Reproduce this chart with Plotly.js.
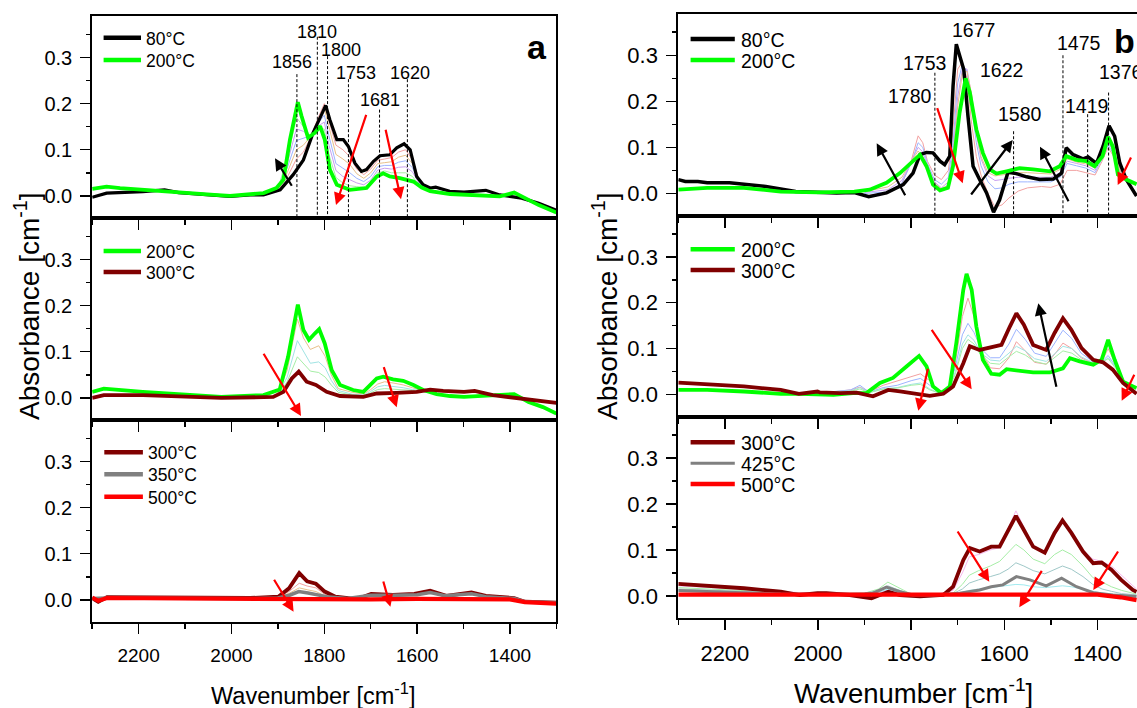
<!DOCTYPE html>
<html><head><meta charset="utf-8">
<script src="https://cdn.plot.ly/plotly-3.0.1.min.js"></script>
<style>html,body{margin:0;padding:0;background:#fff;}#chart{width:1137px;height:708px;}</style>
</head><body><div id="chart"></div>
<script>
// ---------------- DATA (wavenumber cm-1, absorbance) ----------------
// Panel a, top: 80 °C and 200 °C
const aTop80_wn = [2300,2269,2191,2144,2114,2037,2003,1960,1931,1895,1867,1845,1824,1806,1797,1788,1773,1759,1748,1734,1720,1709,1694,1680,1659,1644,1628,1615,1601,1587,1572,1560,1530,1499,1452,1422,1375,1338,1300];
const aTop80_ab = [-0.003,0.006,0.009,0.013,0.007,0.002,-0.001,0.002,0.002,0.013,0.046,0.078,0.137,0.176,0.196,0.165,0.122,0.122,0.107,0.071,0.053,0.057,0.075,0.087,0.089,0.104,0.113,0.100,0.042,0.024,0.017,0.019,0.010,0.008,0.012,0.002,-0.005,-0.016,-0.031];
const aTop200_wn = [2300,2269,2240,2191,2114,2037,2003,1960,1931,1903,1888,1874,1857,1849,1835,1820,1809,1799,1788,1773,1745,1709,1687,1673,1659,1637,1608,1590,1572,1529,1499,1422,1391,1368,1338,1300];
const aTop200_ab = [0.015,0.020,0.017,0.013,0.007,0.002,0.000,0.004,0.006,0.017,0.035,0.122,0.203,0.173,0.126,0.137,0.151,0.122,0.057,0.024,0.013,0.017,0.042,0.049,0.042,0.0385,0.031,0.018,0.010,0.004,0.003,-0.001,0.007,-0.005,-0.020,-0.036];
const aTopMid_wn = [1900,1880,1860,1845,1830,1815,1800,1790,1775,1760,1745,1730,1715,1700,1685,1670,1655,1640,1625,1610,1595,1580];
const aTopMid1 = [0.013,0.040,0.080,0.095,0.125,0.165,0.200,0.165,0.110,0.100,0.085,0.058,0.046,0.058,0.077,0.080,0.083,0.095,0.100,0.078,0.033,0.019];
const aTopMid2 = [0.014,0.050,0.100,0.110,0.128,0.160,0.190,0.150,0.090,0.080,0.068,0.048,0.038,0.050,0.070,0.072,0.074,0.084,0.088,0.070,0.030,0.018];
const aTopMid3 = [0.015,0.060,0.120,0.125,0.130,0.155,0.175,0.130,0.070,0.060,0.050,0.038,0.031,0.042,0.063,0.066,0.066,0.073,0.076,0.061,0.028,0.017];
const aTopMid4 = [0.016,0.070,0.145,0.140,0.130,0.150,0.160,0.110,0.055,0.042,0.035,0.028,0.024,0.034,0.056,0.060,0.058,0.062,0.063,0.052,0.025,0.016];
const aTopMid5 = [0.016,0.080,0.170,0.150,0.130,0.146,0.145,0.090,0.040,0.028,0.022,0.020,0.019,0.028,0.050,0.054,0.050,0.050,0.050,0.042,0.022,0.015];

// Panel a, middle: 200 °C and 300 °C
const aMid200_wn = [2300,2275,2191,2099,2022,1931,1896,1878,1857,1845,1833,1820,1811,1799,1784,1766,1738,1716,1702,1687,1673,1652,1630,1608,1587,1558,1529,1499,1391,1360,1329,1300];
const aMid200_ab = [0.013,0.020,0.013,0.008,0.002,0.006,0.018,0.089,0.202,0.147,0.126,0.140,0.149,0.118,0.060,0.028,0.017,0.013,0.028,0.042,0.046,0.040,0.037,0.028,0.017,0.008,0.004,0.002,0.008,-0.009,-0.020,-0.034];
const aMid300_wn = [2300,2275,2191,2022,1910,1888,1870,1855,1838,1818,1795,1766,1716,1687,1644,1601,1572,1544,1499,1476,1437,1383,1345,1300];
const aMid300_ab = [0.000,0.006,0.006,0.000,0.002,0.013,0.042,0.057,0.035,0.028,0.013,0.004,0.002,0.0095,0.011,0.013,0.018,0.015,0.013,0.015,0.006,-0.001,-0.006,-0.011];
const aMidMid_wn = [1900,1880,1858,1845,1830,1812,1798,1785,1770,1740,1715,1700,1685,1670,1650,1630,1610,1590,1560];
const aMidMid1 = [0.010,0.060,0.171,0.130,0.105,0.113,0.090,0.050,0.020,0.012,0.008,0.018,0.030,0.035,0.032,0.028,0.022,0.016,0.012];
const aMidMid2 = [0.008,0.045,0.124,0.100,0.075,0.078,0.065,0.038,0.016,0.008,0.006,0.014,0.024,0.027,0.025,0.022,0.018,0.015,0.012];
const aMidMid3 = [0.006,0.035,0.089,0.075,0.058,0.055,0.045,0.028,0.012,0.006,0.005,0.011,0.018,0.020,0.019,0.018,0.016,0.014,0.012];

// Panel a, bottom: 300, 350, 500 °C
const aBot300_wn = [2300,2287,2268,2114,1960,1899,1876,1854,1837,1818,1799,1776,1730,1699,1652,1606,1572,1537,1483,1452,1391,1368,1300];
const aBot300_ab = [0.004,-0.004,0.006,0.004,0.004,0.007,0.025,0.058,0.040,0.035,0.018,0.007,0.0015,0.013,0.011,0.013,0.0196,0.0087,0.016,0.0087,0.004,-0.004,-0.006];
const aBot350_wn = [2300,2270,1960,1900,1875,1855,1835,1810,1790,1750,1700,1650,1600,1572,1540,1483,1452,1391,1368,1300];
const aBot350_ab = [0.003,0.004,0.003,0.004,0.010,0.018,0.015,0.010,0.006,0.003,0.010,0.010,0.011,0.016,0.009,0.013,0.007,0.003,-0.004,-0.006];
const aBot500_wn = [2300,2287,2268,2114,1960,1850,1700,1600,1500,1400,1368,1300];
const aBot500_ab = [0.005,-0.002,0.004,0.003,0.002,0.002,0.001,0.002,0.001,0.001,-0.005,-0.008];
const aBotMid_wn = [2300,1960,1900,1876,1854,1837,1818,1799,1776,1730,1699,1652,1606,1572,1537,1483,1452,1391,1368,1300];
const aBotMid1 = [0.004,0.004,0.006,0.018,0.036,0.030,0.026,0.012,0.005,0.002,0.012,0.011,0.012,0.018,0.009,0.015,0.008,0.004,-0.004,-0.006];
const aBotMid2 = [0.004,0.004,0.005,0.014,0.026,0.022,0.018,0.009,0.004,0.002,0.011,0.010,0.011,0.017,0.009,0.014,0.008,0.003,-0.004,-0.006];

// Panel b, top: 80 °C and 200 °C
const bTop80_wn = [2300,2285,2258,2238,2190,2112,2048,2001,1960,1922,1891,1853,1817,1796,1781,1767,1753,1738,1728,1717,1710,1703,1696,1687,1678,1667,1653,1638,1623,1610,1592,1574,1552,1524,1495,1477,1467,1452,1431,1420,1402,1388,1375,1363,1352,1338,1316];
const bTop80_ab = [0.030,0.026,0.026,0.023,0.023,0.015,0.004,0.002,0.001,0.002,-0.007,0.001,0.019,0.044,0.084,0.089,0.088,0.070,0.0625,0.081,0.233,0.324,0.298,0.269,0.168,0.059,0.030,0.001,-0.041,-0.014,0.046,0.043,0.036,0.030,0.031,0.044,0.099,0.084,0.075,0.079,0.065,0.102,0.147,0.124,0.066,0.030,-0.006];
const bTop200_wn = [2300,2238,2159,2080,2001,1922,1889,1853,1824,1799,1781,1767,1753,1738,1721,1710,1696,1683,1674,1660,1646,1631,1617,1595,1567,1538,1502,1481,1467,1445,1424,1406,1389,1377,1367,1356,1338,1316];
const bTop200_ab = [0.008,0.012,0.012,0.004,0.002,0.004,0.008,0.023,0.044,0.066,0.084,0.059,0.019,0.0066,0.012,0.059,0.175,0.250,0.219,0.139,0.088,0.052,0.043,0.048,0.055,0.052,0.048,0.059,0.081,0.073,0.070,0.059,0.081,0.123,0.102,0.041,0.030,0.020];
const bTopMid_wn = [1900,1850,1820,1800,1785,1775,1765,1750,1735,1720,1710,1700,1690,1680,1670,1660,1650,1635,1620,1605,1590,1570,1550,1520,1500,1480,1465,1445,1425,1405,1390,1377,1365,1350,1335];
const bTopMid1 = [-0.005,0.000,0.020,0.070,0.125,0.110,0.070,0.040,0.030,0.050,0.140,0.270,0.285,0.250,0.150,0.080,0.040,0.000,-0.030,-0.025,-0.010,0.005,0.012,0.015,0.013,0.020,0.050,0.050,0.045,0.040,0.070,0.100,0.080,0.040,0.025];
const bTopMid2 = [0.000,0.003,0.022,0.065,0.110,0.100,0.065,0.030,0.020,0.035,0.110,0.240,0.280,0.265,0.190,0.110,0.060,0.025,0.010,0.012,0.020,0.025,0.025,0.025,0.025,0.035,0.065,0.060,0.055,0.045,0.075,0.105,0.085,0.045,0.028];
const bTopMid3 = [0.002,0.008,0.028,0.068,0.100,0.090,0.060,0.025,0.012,0.025,0.090,0.210,0.270,0.270,0.210,0.130,0.075,0.038,0.028,0.030,0.033,0.035,0.035,0.035,0.035,0.045,0.070,0.065,0.060,0.050,0.080,0.110,0.090,0.045,0.028];
const bTopMid4 = [0.004,0.014,0.035,0.070,0.092,0.080,0.055,0.022,0.010,0.018,0.075,0.190,0.260,0.265,0.215,0.135,0.080,0.045,0.038,0.040,0.043,0.045,0.045,0.044,0.042,0.052,0.075,0.068,0.064,0.055,0.080,0.115,0.095,0.045,0.030];

// Panel b, middle: 200 °C and 300 °C
const bMid200_wn = [2300,2238,2159,2080,2039,2001,1967,1925,1896,1867,1839,1810,1783,1767,1753,1735,1717,1703,1688,1681,1670,1660,1646,1628,1610,1595,1567,1538,1502,1474,1459,1438,1409,1391,1377,1363,1345,1316];
const bMid200_ab = [0.010,0.010,0.0065,0.0015,0.0015,-0.0007,-0.001,0.003,0.003,0.025,0.036,0.061,0.084,0.061,0.0175,0.003,0.0175,0.112,0.228,0.263,0.228,0.148,0.0756,0.045,0.043,0.055,0.052,0.048,0.048,0.057,0.079,0.072,0.065,0.0756,0.119,0.0756,0.028,0.014];
const bMid300_wn = [2300,2238,2159,2080,2041,2001,1996,1953,1917,1882,1849,1824,1796,1760,1731,1710,1688,1674,1653,1624,1606,1588,1574,1558,1538,1510,1492,1474,1456,1434,1409,1388,1367,1345,1316];
const bMid300_ab = [0.026,0.023,0.0175,0.010,0.0015,0.0065,0.0044,0.003,0.004,-0.004,0.010,0.0065,0.0015,-0.003,0.0015,0.0175,0.068,0.105,0.097,0.105,0.108,0.148,0.177,0.152,0.108,0.097,0.134,0.166,0.141,0.101,0.0756,0.070,0.054,0.025,0.0015];
const bMidMid_wn = [2000,1930,1910,1890,1860,1830,1800,1780,1760,1740,1720,1705,1690,1678,1665,1650,1630,1610,1590,1574,1555,1535,1510,1490,1474,1455,1435,1410,1390,1377,1360,1340,1320];
const bMidMid1 = [0.002,0.010,0.016,0.006,0.020,0.030,0.040,0.045,0.030,0.006,0.014,0.070,0.170,0.210,0.170,0.095,0.058,0.056,0.080,0.115,0.095,0.070,0.066,0.090,0.112,0.100,0.080,0.068,0.073,0.100,0.065,0.025,0.012];
const bMidMid2 = [0.003,0.010,0.020,0.005,0.015,0.020,0.030,0.035,0.020,0.004,0.012,0.060,0.130,0.155,0.135,0.100,0.080,0.080,0.110,0.142,0.120,0.090,0.083,0.115,0.140,0.122,0.090,0.072,0.072,0.085,0.060,0.025,0.008];
const bMidMid3 = [0.003,0.008,0.015,0.004,0.012,0.015,0.022,0.025,0.012,0.003,0.010,0.050,0.110,0.130,0.118,0.090,0.075,0.073,0.090,0.105,0.095,0.078,0.072,0.090,0.105,0.100,0.082,0.070,0.070,0.080,0.058,0.024,0.008];
const bMidMid4 = [0.003,0.007,0.012,0.004,0.012,0.014,0.020,0.022,0.010,0.003,0.009,0.045,0.100,0.120,0.110,0.085,0.068,0.066,0.082,0.094,0.086,0.072,0.066,0.082,0.095,0.090,0.076,0.068,0.070,0.078,0.056,0.023,0.008];

// Panel b, bottom: 300, 425, 500 °C
const bBot300_wn = [2300,2238,2159,2080,2039,2001,1982,1932,1885,1867,1849,1824,1781,1731,1710,1688,1674,1653,1628,1610,1592,1575,1560,1538,1513,1492,1475,1456,1431,1409,1391,1370,1349,1324,1316];
const bBot300_ab = [0.026,0.0225,0.0167,0.0094,0.002,0.006,0.006,0.002,-0.005,0.002,0.009,0.002,-0.001,0.002,0.020,0.078,0.104,0.0965,0.107,0.107,0.140,0.174,0.147,0.107,0.094,0.137,0.164,0.137,0.0965,0.071,0.0725,0.057,0.035,0.013,0.009];
const bBot425_wn = [2300,2200,2080,2000,1900,1882,1853,1824,1796,1750,1696,1653,1628,1603,1574,1545,1510,1477,1445,1409,1367,1316];
const bBot425_ab = [0.012,0.008,0.004,0.003,0.004,0.006,0.019,0.009,0.002,0.002,0.006,0.013,0.020,0.024,0.042,0.035,0.022,0.0385,0.020,0.007,0.002,-0.001];
const bBot500_wn = [2300,2200,2100,2000,1900,1800,1700,1600,1500,1400,1350,1316];
const bBot500_ab = [0.003,0.003,0.002,0.003,0.002,0.002,0.003,0.004,0.004,0.003,-0.003,-0.009];
const bBotMid_wn = [2300,2200,2100,2000,1900,1870,1850,1830,1800,1750,1710,1690,1675,1655,1630,1610,1592,1575,1558,1538,1513,1492,1475,1456,1431,1410,1390,1370,1348,1324,1316];
const bBotMid1 = [0.022,0.016,0.010,0.005,0.005,0.008,0.012,0.008,0.003,0.002,0.012,0.050,0.085,0.090,0.100,0.105,0.145,0.185,0.150,0.110,0.095,0.130,0.160,0.140,0.100,0.080,0.075,0.065,0.045,0.022,0.015];
const bBotMid2 = [0.018,0.013,0.008,0.004,0.006,0.015,0.030,0.020,0.004,0.002,0.006,0.025,0.045,0.055,0.065,0.075,0.095,0.112,0.100,0.080,0.070,0.090,0.100,0.090,0.065,0.040,0.030,0.020,0.012,0.006,0.004];
const bBotMid3 = [0.015,0.011,0.007,0.004,0.006,0.012,0.022,0.014,0.004,0.002,0.005,0.015,0.028,0.035,0.042,0.048,0.058,0.072,0.065,0.055,0.048,0.058,0.065,0.058,0.042,0.025,0.015,0.010,0.005,0.003,0.002];
const bBotMid4 = [0.012,0.009,0.006,0.003,0.004,0.008,0.015,0.010,0.003,0.002,0.003,0.008,0.012,0.015,0.018,0.020,0.022,0.025,0.024,0.020,0.018,0.020,0.022,0.020,0.015,0.010,0.006,0.004,0.002,0.001,0.001];

// Peak markers
const peakA_labels = ['1856','1810','1800','1753','1681','1620'];
const peakA_wn = [1859,1815,1793,1748,1681,1621];
const peakA_top = [0.264,0.345,0.303,0.253,0.187,0.253];
const peakB_labels = ['1677','1753','1780','1622','1580','1475','1419','1376'];
const peakB_wn = [1749,1580,1474,1421,1376];
const peakB_top = [0.262,0.135,0.300,0.172,0.219];

// Legends
const legATop = ['80°C','200°C'];
const legAMid = ['200°C','300°C'];
const legABot = ['300°C','350°C','500°C'];
const legBTop = ['80°C','200°C'];
const legBMid = ['200°C','300°C'];
const legBBot = ['300°C','425°C','500°C'];

// ---------------- STYLE / LAYOUT ----------------
const W = 1137, H = 708;
const PX = x => x / W, PY = y => 1 - y / H;
const FONT = 'Liberation Sans, Arial, sans-serif';
const C = {black:'#000000', green:'#00ff00', wine:'#800000', gray:'#808080', red:'#ff0000'};
const thinCols = ['#f2a0a0','#e8c08a','#9db4ff','#c8a0f0','#a6eea6','#a0e4e4'];

const traces = [];
function line(xs, ys, ax, color, width) {
  traces.push({x: xs, y: ys, xaxis: 'x' + ax, yaxis: 'y' + ax, type: 'scatter', mode: 'lines',
    line: {color: color, width: width}, showlegend: false, hoverinfo: 'skip'});
}
// a top
[aTopMid1,aTopMid2,aTopMid3,aTopMid4,aTopMid5].forEach((s,i)=>line(aTopMid_wn, s, '', thinCols[i], 1));
line(aTop80_wn, aTop80_ab, '', C.black, 3.2);
line(aTop200_wn, aTop200_ab, '', C.green, 3.8);
// a mid
[aMidMid1,aMidMid2,aMidMid3].forEach((s,i)=>line(aMidMid_wn, s, '2', [thinCols[1],thinCols[5],thinCols[4]][i], 1));
line(aMid200_wn, aMid200_ab, '2', C.green, 3.8);
line(aMid300_wn, aMid300_ab, '2', C.wine, 3.8);
// a bottom
[aBotMid1,aBotMid2].forEach((s,i)=>line(aBotMid_wn, s, '3', [thinCols[0],thinCols[1]][i], 1));
line(aBot300_wn, aBot300_ab, '3', C.wine, 3.8);
line(aBot350_wn, aBot350_ab, '3', C.gray, 3.5);
line(aBot500_wn, aBot500_ab, '3', C.red, 4.2);
// b top
[bTopMid1,bTopMid2,bTopMid3,bTopMid4].forEach((s,i)=>line(bTopMid_wn, s, '4', [thinCols[0],thinCols[2],thinCols[3],thinCols[1]][i], 1));
line(bTop80_wn, bTop80_ab, '4', C.black, 3.5);
line(bTop200_wn, bTop200_ab, '4', C.green, 3.8);
// b mid
[bMidMid1,bMidMid2,bMidMid3,bMidMid4].forEach((s,i)=>line(bMidMid_wn, s, '5', [thinCols[0],thinCols[2],thinCols[5],thinCols[4]][i], 1));
line(bMid200_wn, bMid200_ab, '5', C.green, 3.8);
line(bMid300_wn, bMid300_ab, '5', C.wine, 3.8);
// b bottom
[bBotMid1,bBotMid2,bBotMid3,bBotMid4].forEach((s,i)=>line(bBotMid_wn, s, '6', ['#f5b8ee','#a6eea6','#9fc8c8','#a0eaf0'][i], 1));
line(bBot300_wn, bBot300_ab, '6', C.wine, 3.8);
line(bBot425_wn, bBot425_ab, '6', C.gray, 3);
line(bBot500_wn, bBot500_ab, '6', C.red, 4.2);

const YR = [-0.048, 0.39];
function xaxis(dom, yname, rangeR, labels, fsize) {
  return {domain: dom, anchor: yname, range: [2300, rangeR], autorange: false,
    showline: true, linewidth: 2, linecolor: '#000', mirror: true,
    ticks: 'outside', ticklen: 10, tickwidth: 1.5, tickcolor: '#000',
    tick0: 2200, dtick: 200, minor: {dtick: 100, tick0: 2300, ticklen: 5, tickwidth: 1.5, ticks: 'outside', tickcolor: '#000'},
    showticklabels: labels, tickfont: {family: FONT, size: fsize, color: '#000'},
    ticklabelstandoff: 5, showgrid: false, zeroline: false, automargin: false};
}
function yaxis(dom, xname, mirror, fsize) {
  return {domain: dom, anchor: xname, range: YR, autorange: false,
    showline: true, linewidth: 2, linecolor: '#000', mirror: mirror,
    ticks: 'outside', ticklen: 10, tickwidth: 1.5, tickcolor: '#000',
    tick0: 0, dtick: 0.1, tickformat: '.1f',
    minor: {dtick: 0.05, tick0: 0, ticklen: 4, tickwidth: 1.5, ticks: 'outside', tickcolor: '#000'},
    tickfont: {family: FONT, size: fsize, color: '#000'}, ticklabelstandoff: 4,
    showgrid: false, zeroline: false, automargin: false};
}
const axA = [PX(92.2), PX(556.4)];
const axB = [PX(678.3), 1];
const layout = {
  width: W, height: H, margin: {l: 0, r: 0, t: 0, b: 0}, paper_bgcolor: '#fff', plot_bgcolor: 'rgba(0,0,0,0)',
  showlegend: false,
  xaxis:  xaxis(axA, 'y', 1300, false, 19),
  xaxis2: xaxis(axA, 'y2', 1300, false, 19),
  xaxis3: xaxis(axA, 'y3', 1300, true, 19),
  xaxis4: xaxis(axB, 'y4', 1315, false, 22),
  xaxis5: xaxis(axB, 'y5', 1315, false, 22),
  xaxis6: xaxis(axB, 'y6', 1315, true, 22),
  yaxis:  yaxis([PY(218), PY(16)], 'x', true, 20),
  yaxis2: yaxis([PY(420), PY(218)], 'x2', true, 20),
  yaxis3: yaxis([PY(622), PY(420)], 'x3', true, 20),
  yaxis4: yaxis([PY(215.5), PY(13.8)], 'x4', false, 22),
  yaxis5: yaxis([PY(416.5), PY(215.5)], 'x5', false, 22),
  yaxis6: yaxis([PY(618), PY(416.5)], 'x6', false, 22),
  shapes: [], annotations: []
};

// dashed peak lines
peakA_wn.forEach((w,i)=>layout.shapes.push({type:'line', xref:'x', yref:'y', x0:w, x1:w, y0:peakA_top[i], y1:YR[0], line:{color:'#000', width:1, dash:'3px,2px'}}));
peakB_wn.forEach((w,i)=>layout.shapes.push({type:'line', xref:'x4', yref:'y4', x0:w, x1:w, y0:peakB_top[i], y1:YR[0], line:{color:'#000', width:1, dash:'3px,2px'}}));

function txt(t, x, y, size, opts) {
  layout.annotations.push(Object.assign({text: t, x: PX(x), y: PY(y), xref: 'paper', yref: 'paper', showarrow: false,
    xanchor: 'center', yanchor: 'middle', font: {family: FONT, size: size, color: '#000'}}, opts || {}));
}
// peak labels
const peakApos = [[291.6,61.7],[317,31.7],[341,50],[356,72.7],[380,100],[409.7,72.7]];
peakA_labels.forEach((t,i)=>txt(t, peakApos[i][0], peakApos[i][1], 18));
const peakBpos = [[973.3,30],[924,62.7],[910,96],[1001.7,70],[1020,114.3],[1079.3,42.7],[1086.7,106],[1096.7,71.7]];
peakB_labels.forEach((t,i)=>txt(t, peakBpos[i][0], peakBpos[i][1], 19.5, i===7?{xanchor:'left'}:{}));
// panel letters
txt('<b>a</b>', 536.6, 46.7, 34);
txt('<b>b</b>', 1112, 41, 34, {xanchor:'left'});

// legends
function legend(items, colors, widths, x0, x1, ys, tx, size) {
  items.forEach((t,i)=>{
    layout.shapes.push({type:'line', xref:'paper', yref:'paper', x0:PX(x0), x1:PX(x1), y0:PY(ys[i]), y1:PY(ys[i]), line:{color:colors[i], width:widths[i]}});
    txt(t, tx, ys[i] + 1, size, {xanchor:'left'});
  });
}
legend(legATop, [C.black, C.green], [4.5,4.5], 103.6, 141, [37.7, 60], 143.5, 17.5);
legend(legAMid, [C.green, C.wine], [4.5,4.5], 103.6, 141, [251, 272], 143.5, 17.5);
legend(legABot, [C.wine, C.gray, C.red], [4.5,4.5,4.5], 104.3, 142.9, [452.3, 474.3, 496.7], 145.5, 17.5);
legend(legBTop, [C.black, C.green], [4.5,4.5], 690.6, 734.8, [39, 60], 738.5, 19.5);
legend(legBMid, [C.green, C.wine], [4.5,4.5], 690.6, 734.8, [249.3, 270], 738.5, 19.5);
legend(legBBot, [C.wine, C.gray, C.red], [4.5,3,4.5], 690.6, 734.8, [442.3, 463.3, 484], 738.5, 19.5);

// axis titles
txt('Absorbance [cm<sup>-1</sup>]', 27, 306, 28, {textangle: -90});
txt('Absorbance [cm<sup>-1</sup>]', 605, 306, 28, {textangle: -90});
txt('Wavenumber [cm<sup>-1</sup>]', 313.4, 694, 23.5);
txt('Wavenumber [cm<sup>-1</sup>]', 913, 691, 27.5);

// arrows: [headX, headY, tailX, tailY, color]
const arrows = [
  [275,158.3,292.7,187.3,C.black],[336,205,366.7,113.3,C.red],[401,199.3,385.3,128.3,C.red],
  [301,416,262.7,352.3,C.red],[396.7,407.3,383.3,365.7,C.red],
  [293.6,611.7,273.2,578.3,C.red],[390.4,606.7,382.9,580,C.red],
  [876.7,143.3,906,196.7,C.black],[962.7,183.3,936.7,106.7,C.red],[1012.7,140,970,196,C.black],[1040,146.7,1069.3,202.7,C.black],[1117.7,185,1131.7,156,C.red],
  [971.7,389.3,930.7,328.3,C.red],[918.3,410.7,928.3,367.3,C.red],[1038.3,303.3,1056.7,388.3,C.black],[1121.7,400.7,1135,373.3,C.red],
  [989.3,581.7,956.7,530,C.red],[1019.3,607.3,1042.7,569.3,C.red],[1093.3,590,1119,550,C.red]
];
arrows.forEach(a=>layout.annotations.push({x:PX(a[0]), y:PY(a[1]), xref:'paper', yref:'paper', text:'', showarrow:true,
  ax:a[2]-a[0], ay:a[3]-a[1], axref:'pixel', ayref:'pixel', arrowhead:2, arrowsize:1.1, arrowwidth:2.2, arrowcolor:a[4], standoff:0}));

Plotly.newPlot('chart', traces, layout, {staticPlot: true, displayModeBar: false});
</script></body></html>
